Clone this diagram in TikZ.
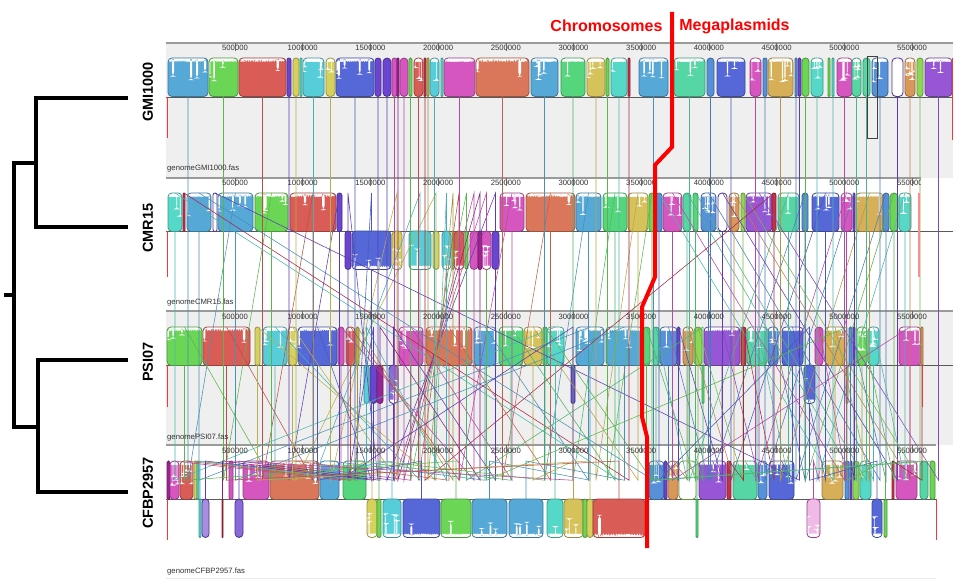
\documentclass[tikz,border=0pt]{standalone}
\usepackage{fontspec}
\setmainfont{Liberation Sans}
\usetikzlibrary{calc}
\definecolor{LB}{HTML}{56A8D6}
\definecolor{GR}{HTML}{6BD656}
\definecolor{RD}{HTML}{DA5C56}
\definecolor{PU}{HTML}{6B45CF}
\definecolor{YE}{HTML}{D6D05C}
\definecolor{CY}{HTML}{56CDD8}
\definecolor{RB}{HTML}{5668D8}
\definecolor{MA}{HTML}{D656C0}
\definecolor{TC}{HTML}{DA775A}
\definecolor{EG}{HTML}{56D67C}
\definecolor{MT}{HTML}{56D6A4}
\definecolor{GY}{HTML}{D6C25A}
\definecolor{TQ}{HTML}{56D8C8}
\definecolor{DR}{HTML}{C4304C}
\definecolor{BL}{HTML}{5690D8}
\definecolor{VI}{HTML}{9656D6}
\definecolor{OR}{HTML}{DA975A}
\definecolor{GO}{HTML}{D6AF58}
\definecolor{LG}{HTML}{8FD656}
\definecolor{DM}{HTML}{9C2492}
\definecolor{OL}{HTML}{B8B244}
\definecolor{BG}{HTML}{EFEFEF}
\definecolor{RUL}{HTML}{9A9A9A}
\definecolor{TXT}{HTML}{333333}
\tikzset{
  blk/.style={anchor=north,inner sep=0pt,outer sep=0pt,minimum height=38.5pt,line width=0.8pt},
  upb/.style={path picture={
    \foreach \q [evaluate=\q as \qq using \q+0.05] in {0,0.05,...,0.95}{
      \pgfmathsetmacro\dd{1.2+2.5*rnd+ifthenelse(rnd>0.85,6+16*rnd,0)}
      \fill[white] ($(path picture bounding box.north west)!\q!(path picture bounding box.north east)$) rectangle ($(path picture bounding box.north west)!\qq!(path picture bounding box.north east)+(0pt,-\dd pt)$);}
  }},
  lowb/.style={path picture={
    \foreach \q [evaluate=\q as \qq using \q+0.05] in {0,0.05,...,0.95}{
      \pgfmathsetmacro\dd{1.2+2.5*rnd+ifthenelse(rnd>0.85,6+16*rnd,0)}
      \fill[white] ($(path picture bounding box.south west)!\q!(path picture bounding box.south east)$) rectangle ($(path picture bounding box.south west)!\qq!(path picture bounding box.south east)+(0pt,\dd pt)$);}
  }},
  cnl/.style={line width=0.55pt},
  ruler/.style={draw=RUL,line width=2pt},
  midl/.style={draw=black!65,line width=0.9pt},
  tickl/.style={draw=black!60,line width=0.5pt},
  tickt/.style={inner sep=0pt,text=TXT,font=\fontsize{7.7}{8}\selectfont},
  fname/.style={anchor=west,inner sep=0pt,text=TXT,font=\fontsize{7.7}{8}\selectfont},
  endm/.style={draw=red!80,line width=0.8pt},
  tree/.style={line width=3.6pt,draw=black},
  species/.style={rotate=90,inner sep=0pt,font=\fontsize{14.5}{16}\selectfont\bfseries},
  head/.style={inner sep=0pt,text=red,font=\fontsize{16}{18}\selectfont\bfseries},
}
\newcommand\blkU[5][]{%
  \pgfmathsetmacro\bkw{#4-#3}%
  \pgfmathsetmacro\bkr{min(4,\bkw/2)}%
  \ifdim\bkw pt>8pt\tikzset{prof/.style=upb}\else\tikzset{prof/.style={}}\fi
  \node[blk,prof,minimum width=\bkw pt,rounded corners=\bkr pt,draw=#5!70!black,fill=#5,#1] (#2) at ({(#3+#4)/2},\ytop) {};}
\newcommand\blkL[5][]{%
  \pgfmathsetmacro\bkw{#4-#3}%
  \pgfmathsetmacro\bkr{min(4,\bkw/2)}%
  \ifdim\bkw pt>8pt\tikzset{prof/.style=lowb}\else\tikzset{prof/.style={}}\fi
  \node[blk,prof,minimum width=\bkw pt,rounded corners=\bkr pt,draw=#5!70!black,fill=#5,#1] (#2) at ({(#3+#4)/2},\ymid) {};}
\newcommand\Cn[4]{\draw[cnl,draw=#4!85!black] (#2.south) -- (#2.south |- d#1) -- (#3.north |- t#1) -- (#3.north);}
\newcommand\rulerticks[3]{%
  \foreach \k/\lab in {0/500000,1/1000000,2/1500000,3/2000000,4/2500000,5/3000000,6/3500000,7/4000000,8/4500000,9/5000000,10/5500000}{
    \node[tickt] (#3\k) at ({235+67.7*\k},#2) {\lab};
    \draw[tickl] ({235+67.7*\k},#1) -- ++(0,8);}}
\begin{document}
\begin{tikzpicture}[x=1pt,y=-1pt]
\pgfmathsetseed{7}
\useasboundingbox (0,0) rectangle (960,583);
\fill[white] (0,0) rectangle (960,583);
% panel backgrounds
\fill[BG] (166,43) rectangle (953,178);
\fill[BG] (166,311) rectangle (953,445);
\draw[black!8,line width=0.8pt] (166,578) -- (936,578);
% rulers
\draw[ruler] (166,43) -- (953,43);
\draw[ruler] (166,178) -- (921,178);
\draw[ruler] (166,311) -- (953,311);
\draw[ruler] (166,445) -- (936,445);
% middle lines
\draw[midl] (166,97) -- (953,97);
\draw[midl] (166,231) -- (953,231);
\draw[midl] (166,365) -- (953,365);
\draw[midl] (166,499) -- (936,499);
% gap coordinates
\coordinate (d1) at (0,138); \coordinate (t1) at (0,193);
\coordinate (d2) at (0,277); \coordinate (t2) at (0,327);
\coordinate (d3) at (0,407); \coordinate (t3) at (0,461);
% ---------- panel 1: GMI1000
\def\ytop{58}\def\ymid{97}
\blkU{a1}{168}{208}{LB}\blkU{a2}{209}{238}{GR}\blkU{a3}{239}{286}{RD}
\blkU{a4}{287}{291}{PU}\blkU{a5}{293}{299}{YE}\blkU{a6}{300}{302}{TQ}
\blkU{a7}{303}{324}{CY}\blkU{a8}{326}{335}{YE}\blkU{a9}{336}{374}{RB}
\blkU{a10}{375}{381}{PU}\blkU{a11}{383}{391}{PU}\blkU{a12}{392}{397}{MA}
\blkU{a13}{397}{399}{DM}\blkU{a14}{400}{408}{MA}\blkU{a15}{409}{412}{GR}
\blkU{a16}{414}{423}{RD}\blkU{a17}{424}{426}{DR}\blkU{a18}{427}{429}{OL}
\blkU{a19}{430}{439}{CY}\blkU{a20}{441}{443}{TQ}\blkU{a21}{444}{475}{MA}
\blkU{a22}{476}{529}{TC}\blkU{a23}{531}{558}{LB}\blkU{a24}{561}{585}{EG}
\blkU{a25}{587}{605}{GY}\blkU{a26}{606}{609}{GR}\blkU{a27}{611}{627}{TQ}
\blkU{a28}{628}{630}{DR}\blkU{a29}{639}{668}{LB}\blkU{a30}{674}{705}{MT}
\blkU{a31}{707}{714}{BL}\blkU{a32}{717}{745}{RB}\blkU{a33}{750}{761}{MA}
\blkU{a34}{763}{767}{BL}\blkU{a35}{768}{793}{GO}\blkU{a36}{795}{797}{BL}
\blkU{a37}{798}{801}{PU}\blkU{a38}{802}{809}{GR}\blkU{a39}{811}{823}{TQ}
\blkU{a40}{828}{830}{GR}\blkU{a41}{832}{834}{TQ}\blkU{a42}{837}{852}{MA}
\blkU{a43}{852}{861}{MT}\blkU{a44}{863}{870}{MT}\blkU{a45}{872}{888}{BL}
\blkU[fill=white]{a46}{892}{903}{PU}\blkU{a47}{905}{915}{OR}\blkU{a48}{917}{923}{LG}
\blkU{a49}{925}{952}{VI}
\draw[black!75,line width=0.6pt] (867,56) rectangle (877,138);
% ---------- panel 2: CMR15
\def\ytop{193}\def\ymid{231}
\blkU{b1}{168}{182}{TQ}\blkU{b2}{183}{185}{DR}\blkU{b3}{187}{211}{LB}
\blkU[fill=white]{b4}{213}{217}{PU}\blkU{b5}{218}{253}{LB}\blkU{b6}{255}{288}{GR}
\blkU{b7}{290}{336}{RD}\blkU{b8}{337}{342}{PU}
\blkL{b9}{345}{351}{PU}\blkL{b10}{352}{391}{RB}\blkL{b11}{392}{402}{YE}
\blkL{b12}{409}{431}{CY}\blkL{b13}{433}{439}{YE}\blkL{b14}{442}{451}{CY}
\blkL{b15}{452}{454}{OL}\blkL{b16}{454}{464}{RD}\blkL{b17}{465}{468}{GR}
\blkL{b18}{470}{478}{MA}\blkL{b19}{478}{482}{DM}\blkL{b20}{482}{491}{MA}
\blkL{b21}{492}{499}{PU}
\blkU{b22}{500}{524}{MA}\blkU{b23}{526}{575}{TC}\blkU{b24}{576}{601}{LB}
\blkU{b25}{603}{627}{EG}\blkU{b26}{628}{648}{GY}\blkU{b27}{649}{655}{GR}
\blkU{b28}{656}{662}{BL}\blkU{b29}{663}{682}{MA}\blkU{b30}{683}{691}{MT}
\blkU{b31}{693}{698}{EG}\blkU{b32}{701}{716}{BL}\blkU[fill=white]{b33}{718}{727}{PU}
\blkU{b34}{729}{739}{OR}\blkU{b35}{741}{745}{LG}\blkU{b36}{746}{772}{VI}
\blkU{b37}{772}{776}{DR}\blkU{b38}{778}{799}{MT}\blkU{b39}{802}{808}{BL}
\blkU{b40}{812}{839}{RB}\blkU{b41}{841}{852}{MA}\blkU{b42}{853}{855}{PU}
\blkU{b43}{856}{883}{GO}\blkU{b44}{883}{889}{BL}\blkU{b45}{890}{898}{GR}
\blkU{b46}{899}{911}{TQ}
% ---------- panel 3: PSI07
\def\ytop{327}\def\ymid{365}
\blkU{c1}{167}{202}{GR}\blkU{c2}{203}{250}{RD}\blkU{c3}{255}{260}{YE}
\blkU{c4}{263}{287}{CY}\blkU{c5}{288}{297}{YE}\blkU{c6}{298}{337}{RB}
\blkU{c7}{338}{344}{MA}\blkU{c8}{346}{355}{RD}\blkU{c9}{356}{359}{OL}
\blkL{c10}{364}{369}{CY}\blkL{c11}{370}{377}{PU}\blkL{c12}{377}{383}{DM}
\blkL[fill=PU!80]{c13}{389}{398}{PU}
\blkU{c14}{399}{423}{MA}\blkU{c15}{426}{472}{TC}\blkU{c16}{474}{496}{LB}
\blkU{c17}{499}{523}{EG}\blkU{c18}{524}{542}{GY}\blkU{c19}{543}{547}{GR}
\blkU{c20}{547}{564}{TQ}\blkU{c21}{576}{604}{LB}\blkU{c22}{606}{643}{LB}
\blkU{c23}{643}{650}{EG}\blkU{c24}{653}{659}{MT}\blkU{c25}{660}{677}{BL}
\blkU{c26}{677}{680}{PU}\blkU{c27}{683}{693}{OR}\blkU{c28}{694}{702}{LG}
\blkU{c29}{704}{740}{VI}\blkU{c30}{741}{746}{DR}\blkU{c31}{747}{767}{MT}
\blkU{c32}{768}{778}{BL}\blkU{c33}{782}{803}{RB}\blkU{c34}{815}{823}{MA}
\blkU{c35}{825}{845}{GO}\blkU{c36}{849}{852}{BL}\blkU{c37}{853}{855}{PU}
\blkU{c38}{857}{867}{GR}\blkU{c39}{868}{879}{TQ}\blkU{c40}{899}{921}{MA}
\blkU{c41}{921}{923}{OR}
\blkL{c42}{571}{575}{PU}\blkL{c43}{702}{704}{EG}\blkL{c44}{804}{815}{RB}
\blkL{c45}{846}{848}{GR}
% ---------- panel 4: CFBP2957
\def\ytop{461}\def\ymid{499}
\blkU{d1}{167}{170}{DM}\blkU{d2}{170}{179}{MA}\blkU{d3}{180}{193}{RD}
\blkU{d4}{194}{197}{YE}\blkU{d5}{197}{199}{TQ}\blkU{d6}{229}{233}{MA}
\blkU{d7}{243}{269}{MA}\blkU{d8}{270}{319}{TC}\blkU{d9}{320}{339}{LB}
\blkU{d10}{343}{366}{EG}
\blkL{d11}{199}{201}{TQ}\blkL[fill=PU!60]{d12}{202}{209}{PU}\blkL{d13}{222}{223}{DR}
\blkL[fill=PU!80]{d14}{235}{243}{PU}\blkL{d15}{367}{377}{YE}\blkL{d16}{377}{381}{GR}
\blkL{d17}{383}{401}{CY}\blkL{d18}{403}{440}{RB}\blkL{d19}{441}{471}{GR}
\blkL{d20}{472}{507}{LB}\blkL{d21}{509}{543}{LB}\blkL{d22}{547}{563}{TQ}
\blkL{d23}{564}{583}{GY}\blkL{d24}{583}{587}{GR}\blkL{d25}{587}{593}{YE}
\blkL{d26}{593}{645}{RD}
\blkU{d27}{649}{664}{BL}\blkU{d28}{664}{667}{PU}\blkU{d29}{668}{678}{OR}
\blkU[fill=white]{d30}{679}{696}{LG}\blkU{d31}{699}{726}{VI}\blkU{d32}{727}{731}{DR}
\blkU{d33}{733}{757}{MT}\blkU{d34}{758}{767}{BL}\blkU{d35}{769}{794}{RB}
\blkU{d36}{822}{843}{GO}\blkU{d37}{845}{849}{BL}\blkU{d38}{850}{852}{PU}
\blkU{d39}{853}{859}{LG}\blkU{d40}{860}{871}{TQ}\blkU{d41}{892}{894}{DR}
\blkU{d42}{896}{917}{MA}\blkU{d43}{920}{928}{MT}\blkU{d44}{930}{935}{GR}
\blkL{d45}{696}{698}{EG}\blkL[fill=MA!40]{d46}{807}{820}{MA}\blkL{d47}{872}{882}{RB}
\blkL{d48}{884}{887}{GR}
% ---------- connectors gap 1
\Cn{1}{a1}{b5}{LB}\Cn{1}{a2}{b6}{GR}\Cn{1}{a3}{b7}{RD}\Cn{1}{a4}{b8}{PU}
\Cn{1}{a5}{b13}{YE}\Cn{1}{a7}{b12}{CY}\Cn{1}{a8}{b11}{YE}\Cn{1}{a9}{b10}{RB}
\Cn{1}{a10}{b9}{PU}\Cn{1}{a11}{b21}{PU}\Cn{1}{a12}{b20}{MA}\Cn{1}{a13}{b19}{DM}
\Cn{1}{a14}{b18}{MA}\Cn{1}{a15}{b17}{GR}\Cn{1}{a16}{b16}{RD}\Cn{1}{a18}{b15}{OL}
\Cn{1}{a19}{b14}{CY}\Cn{1}{a21}{b22}{MA}\Cn{1}{a22}{b23}{TC}\Cn{1}{a23}{b24}{LB}
\Cn{1}{a24}{b25}{EG}\Cn{1}{a25}{b26}{GY}\Cn{1}{a26}{b27}{GR}\Cn{1}{a27}{b1}{TQ}
\Cn{1}{a28}{b2}{DR}\Cn{1}{a29}{b3}{LB}\Cn{1}{a30}{b38}{MT}\Cn{1}{a31}{b39}{BL}
\Cn{1}{a32}{b40}{RB}\Cn{1}{a33}{b41}{MA}\Cn{1}{a34}{b42}{BL}\Cn{1}{a35}{b43}{GO}
\Cn{1}{a36}{b44}{BL}\Cn{1}{a37}{b4}{PU}\Cn{1}{a38}{b45}{GR}\Cn{1}{a39}{b46}{TQ}
\Cn{1}{a41}{b28}{TQ}\Cn{1}{a42}{b29}{MA}\Cn{1}{a43}{b30}{MT}\Cn{1}{a44}{b31}{MT}
\Cn{1}{a45}{b32}{BL}\Cn{1}{a46}{b33}{PU}\Cn{1}{a47}{b34}{OR}\Cn{1}{a48}{b35}{LG}
\Cn{1}{a49}{b36}{VI}\Cn{1}{a17}{b37}{DR}
% ---------- connectors gap 2
\Cn{2}{b6}{c1}{GR}\Cn{2}{b7}{c2}{RD}\Cn{2}{b13}{c3}{YE}\Cn{2}{b12}{c4}{CY}
\Cn{2}{b11}{c5}{YE}\Cn{2}{b10}{c6}{RB}\Cn{2}{b18}{c7}{MA}\Cn{2}{b16}{c8}{RD}
\Cn{2}{b15}{c9}{OL}\Cn{2}{b14}{c10}{CY}\Cn{2}{b9}{c11}{PU}\Cn{2}{b19}{c12}{DM}
\Cn{2}{b21}{c13}{PU}\Cn{2}{b22}{c14}{MA}\Cn{2}{b23}{c15}{TC}\Cn{2}{b24}{c16}{LB}
\Cn{2}{b25}{c17}{EG}\Cn{2}{b26}{c18}{GY}\Cn{2}{b27}{c19}{GR}\Cn{2}{b1}{c20}{TQ}
\Cn{2}{b3}{c21}{LB}\Cn{2}{b5}{c22}{LB}\Cn{2}{b31}{c23}{EG}\Cn{2}{b30}{c24}{MT}
\Cn{2}{b32}{c25}{BL}\Cn{2}{b33}{c26}{PU}\Cn{2}{b34}{c27}{OR}\Cn{2}{b35}{c28}{LG}
\Cn{2}{b36}{c29}{VI}\Cn{2}{b37}{c30}{DR}\Cn{2}{b38}{c31}{MT}\Cn{2}{b39}{c32}{BL}
\Cn{2}{b40}{c33}{RB}\Cn{2}{b41}{c34}{MA}\Cn{2}{b43}{c35}{GO}\Cn{2}{b44}{c36}{BL}
\Cn{2}{b42}{c37}{PU}\Cn{2}{b45}{c38}{GR}\Cn{2}{b46}{c39}{TQ}\Cn{2}{b29}{c40}{MA}
\Cn{2}{b8}{c42}{PU}\Cn{2}{b17}{c43}{EG}\Cn{2}{b28}{c44}{RB}\Cn{2}{b20}{c45}{GR}
% ---------- connectors gap 3
\Cn{3}{c7}{d2}{MA}\Cn{3}{c8}{d3}{RD}\Cn{3}{c9}{d4}{OL}\Cn{3}{c10}{d11}{CY}
\Cn{3}{c11}{d12}{PU}\Cn{3}{c12}{d13}{DM}\Cn{3}{c13}{d14}{PU}\Cn{3}{c14}{d7}{MA}
\Cn{3}{c15}{d8}{TC}\Cn{3}{c16}{d9}{LB}\Cn{3}{c17}{d10}{EG}\Cn{3}{c5}{d15}{YE}
\Cn{3}{c19}{d16}{GR}\Cn{3}{c4}{d17}{CY}\Cn{3}{c6}{d18}{RB}\Cn{3}{c1}{d19}{GR}
\Cn{3}{c21}{d20}{LB}\Cn{3}{c22}{d21}{LB}\Cn{3}{c20}{d22}{TQ}\Cn{3}{c18}{d23}{GY}
\Cn{3}{c3}{d25}{YE}\Cn{3}{c2}{d26}{RD}\Cn{3}{c25}{d27}{BL}\Cn{3}{c26}{d28}{PU}
\Cn{3}{c27}{d29}{OR}\Cn{3}{c28}{d30}{LG}\Cn{3}{c29}{d31}{VI}\Cn{3}{c30}{d32}{DR}
\Cn{3}{c31}{d33}{MT}\Cn{3}{c32}{d34}{BL}\Cn{3}{c33}{d35}{RB}\Cn{3}{c35}{d36}{GO}
\Cn{3}{c36}{d37}{BL}\Cn{3}{c37}{d38}{PU}\Cn{3}{c38}{d39}{LG}\Cn{3}{c39}{d40}{TQ}
\Cn{3}{c40}{d42}{MA}\Cn{3}{c34}{d46}{MA}\Cn{3}{c44}{d47}{RB}\Cn{3}{c45}{d48}{GR}
\Cn{3}{c43}{d45}{EG}\Cn{3}{c23}{d44}{GR}\Cn{3}{c24}{d43}{MT}\Cn{3}{c42}{d6}{MA}
\Cn{3}{c41}{d41}{DR}
% ---------- genome end markers
\draw[endm] (167,97) -- (167,138);   \draw[endm] (952,58) -- (952,140);
\draw[endm] (167,231) -- (167,277);  \draw[draw=red!45,line width=1.6pt] (919,193) -- (919,277);
\draw[endm] (167,365) -- (167,407);  \draw[endm] (922,365) -- (922,407);
\draw[endm] (167,499) -- (167,540);  \draw[endm] (936,499) -- (936,540);
% ---------- rulers' labels
\rulerticks{43}{48}{ra}
\begin{scope}\clip (166,170) rectangle (920,192);\rulerticks{178}{183}{rb}\end{scope}
\rulerticks{311}{317}{rc}
\begin{scope}\clip (166,440) rectangle (936,460);\rulerticks{445}{451}{rd}\end{scope}
% file names
\node[fname] (fa) at (167,169) {genomeGMI1000.fas};
\node[fname] (fb) at (167,303) {genomeCMR15.fas};
\node[fname] (fc) at (167,438) {genomePSI07.fas};
\node[fname] (fd) at (167,572) {genomeCFBP2957.fas};
% ---------- red separator and headings
\draw[red,line width=4pt] (672,12) -- (672,147) -- (655,165) -- (655,277) -- (642,307) -- (642,417) -- (647,437) -- (647,548);
\node[head] (chr) at (606.5,26) {Chromosomes};
\node[head] (meg) at (734.5,26) {Megaplasmids};
% ---------- species labels
\node[species] (sGMI) at (148,92) {GMI1000};
\node[species] (sCMR) at (148,228) {CMR15};
\node[species] (sPSI) at (148,362) {PSI07};
\node[species] (sCFB) at (148,493) {CFBP2957};
% ---------- tree
\draw[tree] (128,98) -| (36,227) -- (128,227);
\draw[tree] (36,163) -| (14,427) -- (38,427);
\draw[tree] (4,295) -- (14,295);
\draw[tree] (128,360) -| (38,492) -- (128,492);
\end{tikzpicture}
\end{document}
